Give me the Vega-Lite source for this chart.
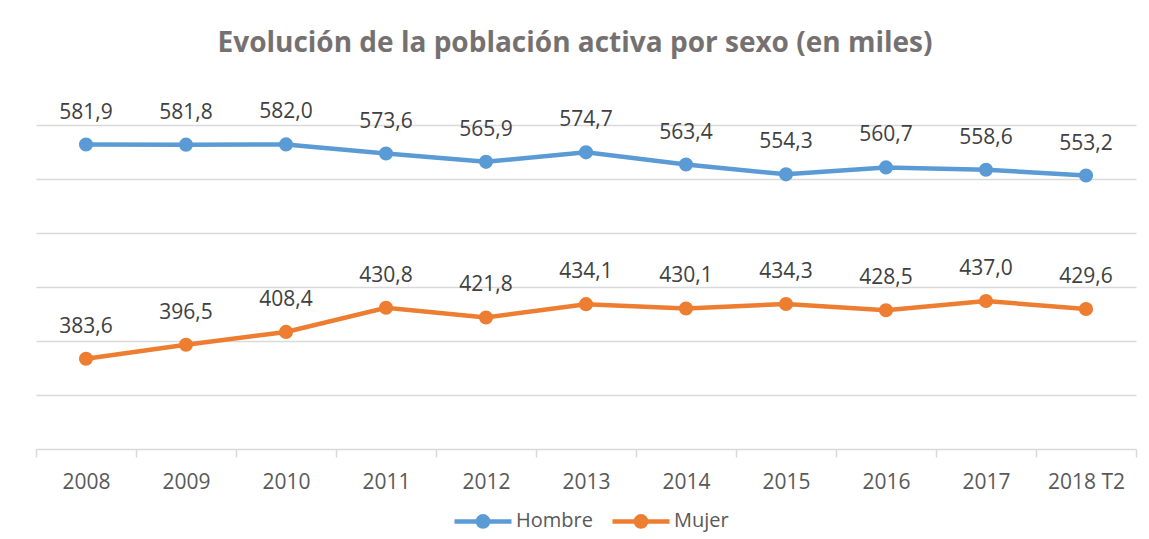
{
  "$schema": "https://vega.github.io/schema/vega-lite/v6.json",
  "width": 1100,
  "height": 324,
  "autosize": {"type": "none"},
  "padding": {"left": 36, "top": 125, "right": 13, "bottom": 90},
  "background": "white",
  "config": {
    "locale": {"number": {"decimal": ",", "thousands": ".", "grouping": [3], "currency": ["", " €"]}},
    "view": {"stroke": null},
    "font": "Open Sans"
  },
  "title": {
    "text": "Evolución de la población activa por sexo (en miles)",
    "font": "Open Sans",
    "fontSize": 28,
    "fontWeight": "bold",
    "color": "#767171",
    "anchor": "middle",
    "frame": "group",
    "baseline": "alphabetic",
    "offset": 21,
    "dx": -11
  },
  "data": {
    "values": [
      {"anio": "2008", "sexo": "Hombre", "valor": 581.9},
      {"anio": "2009", "sexo": "Hombre", "valor": 581.8},
      {"anio": "2010", "sexo": "Hombre", "valor": 582.0},
      {"anio": "2011", "sexo": "Hombre", "valor": 573.6},
      {"anio": "2012", "sexo": "Hombre", "valor": 565.9},
      {"anio": "2013", "sexo": "Hombre", "valor": 574.7},
      {"anio": "2014", "sexo": "Hombre", "valor": 563.4},
      {"anio": "2015", "sexo": "Hombre", "valor": 554.3},
      {"anio": "2016", "sexo": "Hombre", "valor": 560.7},
      {"anio": "2017", "sexo": "Hombre", "valor": 558.6},
      {"anio": "2018 T2", "sexo": "Hombre", "valor": 553.2},
      {"anio": "2008", "sexo": "Mujer", "valor": 383.6},
      {"anio": "2009", "sexo": "Mujer", "valor": 396.5},
      {"anio": "2010", "sexo": "Mujer", "valor": 408.4},
      {"anio": "2011", "sexo": "Mujer", "valor": 430.8},
      {"anio": "2012", "sexo": "Mujer", "valor": 421.8},
      {"anio": "2013", "sexo": "Mujer", "valor": 434.1},
      {"anio": "2014", "sexo": "Mujer", "valor": 430.1},
      {"anio": "2015", "sexo": "Mujer", "valor": 434.3},
      {"anio": "2016", "sexo": "Mujer", "valor": 428.5},
      {"anio": "2017", "sexo": "Mujer", "valor": 437.0},
      {"anio": "2018 T2", "sexo": "Mujer", "valor": 429.6}
    ]
  },
  "encoding": {
    "x": {
      "field": "anio",
      "type": "nominal",
      "sort": null,
      "scale": {"type": "band", "paddingInner": 0, "paddingOuter": 0},
      "axis": {
        "title": null,
        "labelAngle": 0,
        "labelFont": "Open Sans",
        "labelFontSize": 21,
        "labelColor": "#595959",
        "labelBaseline": "alphabetic",
        "labelPadding": 31,
        "domainColor": "#d9d9d9",
        "domainWidth": 1.5,
        "tickColor": "#d9d9d9",
        "tickWidth": 1.5,
        "tickSize": 8,
        "tickBand": "extent",
        "grid": false
      }
    },
    "y": {
      "field": "valor",
      "type": "quantitative",
      "scale": {"domain": [300, 600], "nice": false, "zero": false},
      "axis": {
        "title": null,
        "labels": false,
        "ticks": false,
        "domain": false,
        "values": [350, 400, 450, 500, 550, 600],
        "grid": true,
        "gridColor": "#d9d9d9",
        "gridWidth": 1.5
      }
    },
    "color": {
      "field": "sexo",
      "type": "nominal",
      "scale": {"domain": ["Hombre", "Mujer"], "range": ["#5B9BD5", "#ED7D31"]},
      "legend": {
        "title": null,
        "orient": "none",
        "legendX": 416,
        "legendY": 365,
        "direction": "horizontal",
        "labelFont": "Open Sans",
        "labelFontSize": 20,
        "labelColor": "#595959",
        "labelOffset": 2,
        "columnPadding": 10,
        "symbolType": "M-1,0H1M0.18,0A0.18,0.18 0 1 1 -0.18,0A0.18,0.18 0 1 1 0.18,0Z",
        "symbolSize": 3249,
        "symbolStrokeWidth": 4.5,
        "symbolOpacity": 1
      }
    }
  },
  "layer": [
    {"mark": {"type": "line", "strokeWidth": 4.5}},
    {"mark": {"type": "point", "filled": true, "size": 200, "opacity": 1}},
    {
      "mark": {"type": "text", "dy": -32, "fontSize": 21, "font": "Open Sans", "color": "#404040", "baseline": "middle"},
      "encoding": {
        "text": {"field": "valor", "type": "quantitative", "format": ".1f"},
        "color": {"value": "#404040"}
      }
    }
  ]
}
